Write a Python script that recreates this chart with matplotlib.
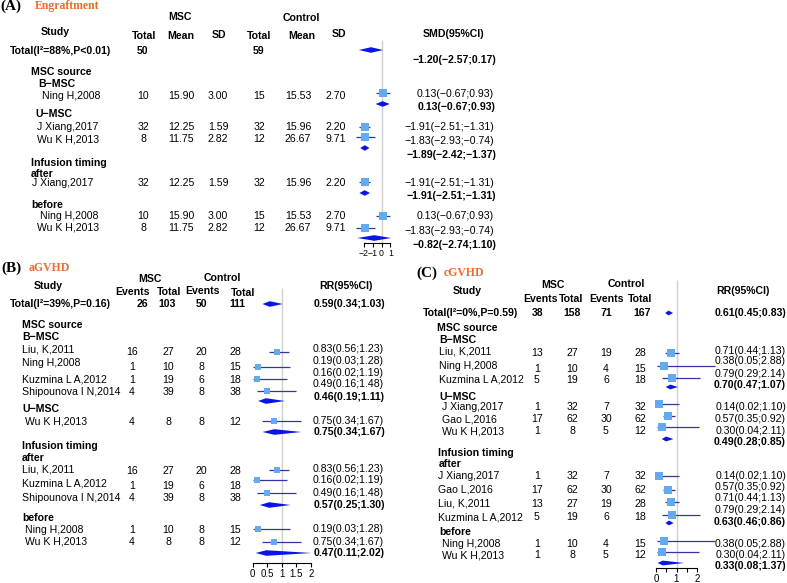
import matplotlib.pyplot as plt

plt.rcParams['font.family'] = ['Liberation Sans', 'DejaVu Sans']

# ---------------- data: (A) Engraftment, SMD ----------------
A_study = ["Ning H,2008", "J Xiang,2017", "Wu K H,2013", "J Xiang,2017", "Ning H,2008", "Wu K H,2013"]
A_msc_total = [10, 32, 8, 32, 10, 8]
A_msc_mean = [15.90, 12.25, 11.75, 12.25, 15.90, 11.75]
A_msc_sd = [3.00, 1.59, 2.82, 1.59, 3.00, 2.82]
A_ctl_total = [15, 32, 12, 32, 15, 12]
A_ctl_mean = [15.53, 15.96, 26.67, 15.96, 15.53, 26.67]
A_ctl_sd = [2.70, 2.20, 9.71, 2.20, 2.70, 9.71]
A_smd = [0.13, -1.91, -1.83, -1.91, 0.13, -1.83]
A_lo = [-0.67, -2.51, -2.93, -2.51, -0.67, -2.93]
A_hi = [0.93, -1.31, -0.74, -1.31, 0.93, -0.74]
A_sum_smd = [-1.20, 0.13, -1.89, -1.91, -0.82]
A_sum_lo = [-2.57, -0.67, -2.42, -2.51, -2.74]
A_sum_hi = [0.17, 0.93, -1.37, -1.31, 1.10]
A_total = [50, 59]
A_total_label = "Total(I²=88%,P<0.01)"
A_groups = ["MSC source", "B\u2212MSC", "U\u2212MSC", "Infusion timing", "after", "before"]
A_ticks = [-2, -1, 0, 1]
A_ticklabels = ["\u22122", "\u22121", "0", "1"]

# ---------------- data: (B) aGVHD, RR ----------------
B_study = ["Liu, K,2011", "Ning H,2008", "Kuzmina L A,2012", "Shipounova I N,2014", "Wu K H,2013",
           "Liu, K,2011", "Kuzmina L A,2012", "Shipounova I N,2014", "Ning H,2008", "Wu K H,2013"]
B_msc_events = [16, 1, 1, 4, 4, 16, 1, 4, 1, 4]
B_msc_total = [27, 10, 19, 39, 8, 27, 19, 39, 10, 8]
B_ctl_events = [20, 8, 6, 8, 8, 20, 6, 8, 8, 8]
B_ctl_total = [28, 15, 18, 38, 12, 28, 18, 38, 15, 12]
B_rr = [0.83, 0.19, 0.16, 0.49, 0.75, 0.83, 0.16, 0.49, 0.19, 0.75]
B_lo = [0.56, 0.03, 0.02, 0.16, 0.34, 0.56, 0.02, 0.16, 0.03, 0.34]
B_hi = [1.23, 1.28, 1.19, 1.48, 1.67, 1.23, 1.19, 1.48, 1.28, 1.67]
B_sum_rr = [0.59, 0.46, 0.75, 0.57, 0.47]
B_sum_lo = [0.34, 0.19, 0.34, 0.25, 0.11]
B_sum_hi = [1.03, 1.11, 1.67, 1.30, 2.02]
B_total = [26, 103, 50, 111]
B_total_label = "Total(I²=39%,P=0.16)"
B_ticks = [0, 0.5, 1, 1.5, 2]
B_ticklabels = ["0", "0.5", "1", "1.5", "2"]

# ---------------- data: (C) cGVHD, RR ----------------
C_study = ["Liu, K,2011", "Ning H,2008", "Kuzmina L A,2012", "J Xiang,2017", "Gao L,2016", "Wu K H,2013",
           "J Xiang,2017", "Gao L,2016", "Liu, K,2011", "Kuzmina L A,2012", "Ning H,2008", "Wu K H,2013"]
C_msc_events = [13, 1, 5, 1, 17, 1, 1, 17, 13, 5, 1, 1]
C_msc_total = [27, 10, 19, 32, 62, 8, 32, 62, 27, 19, 10, 8]
C_ctl_events = [19, 4, 6, 7, 30, 5, 7, 30, 19, 6, 4, 5]
C_ctl_total = [28, 15, 18, 32, 62, 12, 32, 62, 28, 18, 15, 12]
C_rr = [0.71, 0.38, 0.79, 0.14, 0.57, 0.30, 0.14, 0.57, 0.71, 0.79, 0.38, 0.30]
C_lo = [0.44, 0.05, 0.29, 0.02, 0.35, 0.04, 0.02, 0.35, 0.44, 0.29, 0.05, 0.04]
C_hi = [1.13, 2.88, 2.14, 1.10, 0.92, 2.11, 1.10, 0.92, 1.13, 2.14, 2.88, 2.11]
C_sum_rr = [0.61, 0.70, 0.49, 0.63, 0.33]
C_sum_lo = [0.45, 0.47, 0.28, 0.46, 0.08]
C_sum_hi = [0.83, 1.07, 0.85, 0.86, 1.37]
C_total = [38, 158, 71, 167]
C_total_label = "Total(I²=0%,P=0.59)"
C_ticks = [0, 0.5, 1, 1.5, 2]
C_ticklabels = ["0", "", "1", "", "2"]

# ---------------- layout (pixel rows / columns) ----------------
W, H = 787, 583
FS = 7.6
ORANGE = '#ee6a28'
LIGHT = '#63aaee'
NAVY = '#3434a6'
BLUE = '#0a14e6'

A_grp_xy = [(31, 72), (38, 84), (35, 114), (31, 163), (31, 174), (31, 205)]
A_name_x = [42, 37, 37, 32, 40, 37]
A_row_y = [96, 127, 139, 183, 216, 228]
A_mark_y = [93, 127, 137, 182, 216, 228]
A_est_y = [94, 127, 141, 183, 216, 231]
A_sum_mark_y = [50, 104, 148, 193, 238]
A_sum_text_y = [60, 107, 155, 196, 245]
A_cols = [143, 181, 218, 259, 298, 336]

B_grp_xy = [(22, 325), (22, 337), (22, 409), (22, 446), (22, 458), (22, 518)]
B_name_x = [22, 22, 22, 22, 25, 22, 22, 22, 25, 25]
B_name_y = [350, 363, 379, 392, 422, 470, 484, 498, 530, 542]
B_num_y = [352, 367, 380, 392, 422, 471, 486, 498, 530, 542]
B_mark_y = [352, 367, 379, 391, 421, 470, 480, 493, 529, 542]
B_est_y = [349, 361, 373, 384, 421, 469, 480, 493, 529, 542]
B_sum_mark_y = [304, 401, 432, 505, 553]
B_sum_text_y = [304, 397, 432, 505, 553]
B_cols = [132, 168, 201, 235]
B_head_cols = [132, 169, 203, 243]
B_total_cols = [142, 167, 202, 237]

C_grp_xy = [(437, 328), (439, 340), (439, 397), (438, 453), (439, 464), (439, 532)]
C_name_x = [439, 439, 439, 442, 442, 442, 438, 438, 438, 438, 442, 442]
C_name_y = [351, 366, 379, 407, 419, 431, 476, 490, 504, 517, 544, 555]
C_num_y = [353, 369, 380, 407, 419, 431, 476, 490, 504, 517, 544, 555]
C_mark_y = [353, 366, 378, 404, 416, 427, 476, 490, 502, 515, 541, 552]
C_est_y = [351, 361, 374, 407, 419, 431, 476, 487, 498, 510, 544, 555]
C_sum_mark_y = [313, 387, 439, 523, 563]
C_sum_text_y = [313, 385, 442, 522, 566]
C_cols = [537, 572, 606, 640]


def fmt(v):
    return f"{v:.2f}".replace('-', '\u2212')


def ci(e, l, h):
    return f"{fmt(e)}({fmt(l)};{fmt(h)})"


fig = plt.figure(figsize=(W / 100, H / 100), dpi=100)
ax0 = fig.add_axes([0, 0, 1, 1])
ax0.set_xlim(0, W)
ax0.set_ylim(H, 0)
ax0.axis('off')


def put(x, y, s, ha='left', bold=False, size=FS, **kw):
    ax0.text(x, y, s, ha=ha, va='center', fontsize=size,
             fontweight='bold' if bold else 'normal', **kw)


def title(x, y, tag, name, gap):
    ax0.text(x, y, tag, ha='left', va='center', fontsize=11, fontweight='bold',
             family='Liberation Serif')
    ax0.text(x + gap, y, name, ha='left', va='center', fontsize=8.5,
             fontweight='bold', family='Liberation Serif', color=ORANGE)


def forest(px0, px1, py_top, py_axis, zero_px, scale, ref, bounds, ticks, labels, lsize=7):
    ax = fig.add_axes([px0 / W, 1 - py_axis / H, (px1 - px0) / W, (py_axis - py_top) / H])
    ax.set_xlim((px0 - zero_px) / scale, (px1 - zero_px) / scale)
    ax.set_ylim(py_axis, py_top)
    ax.patch.set_visible(False)
    for s in ['top', 'right', 'left']:
        ax.spines[s].set_visible(False)
    ax.spines['bottom'].set_bounds(*bounds)
    ax.spines['bottom'].set_linewidth(0.8)
    ax.set_yticks([])
    ax.set_xticks(ticks)
    ax.set_xticklabels(labels)
    ax.tick_params(axis='x', length=3, width=0.8, labelsize=lsize, pad=1.5)
    ax.vlines(ref, py_top, py_axis, color='#cfcfcf', lw=1, zorder=0)
    return ax


def studies(ax, est, lo, hi, ys, ms):
    ax.hlines(ys, lo, hi, color=NAVY, lw=0.9, zorder=2, clip_on=False)
    ax.scatter(est, ys, marker='s', s=ms ** 2, color=LIGHT, linewidths=0, zorder=3, clip_on=False)


def diamonds(ax, est, lo, hi, ys, h):
    for e, l, u, y in zip(est, lo, hi, ys):
        ax.fill([l, e, u, e], [y, y - h, y, y + h], color=BLUE, lw=0, zorder=3, clip_on=False)


# ================= (A) =================
title(0, 6, "(A)", "Engraftment", 35)
put(180, 17, "MSC", 'center', True)
put(301, 18, "Control", 'center', True)
put(55, 32, "Study", 'center', True)
for x, y, s in zip([144, 181, 219, 259, 302, 339], [36, 36, 35, 36, 36, 34],
                   ["Total", "Mean", "SD", "Total", "Mean", "SD"]):
    put(x, y, s, 'center', True)
put(454, 34, "SMD(95%CI)", 'center', True)
put(10, 51, A_total_label, bold=True)
put(143, 51, str(A_total[0]), 'center', True)
put(259, 51, str(A_total[1]), 'center', True)
for (x, y), g in zip(A_grp_xy, A_groups):
    put(x, y, g, bold=True)
for i in range(len(A_study)):
    y = A_row_y[i]
    put(A_name_x[i], y, A_study[i])
    vals = [str(A_msc_total[i]), f"{A_msc_mean[i]:.2f}", f"{A_msc_sd[i]:.2f}",
            str(A_ctl_total[i]), f"{A_ctl_mean[i]:.2f}", f"{A_ctl_sd[i]:.2f}"]
    for x, v in zip(A_cols, vals):
        put(x, y, v, 'center')
    put(494, A_est_y[i], ci(A_smd[i], A_lo[i], A_hi[i]), 'right')
for i in range(len(A_sum_smd)):
    put(496, A_sum_text_y[i], ci(A_sum_smd[i], A_sum_lo[i], A_sum_hi[i]), 'right', True)

axA = forest(340, 410, 40, 243, 381.5, 8.8, 0, (-2, 1), A_ticks, A_ticklabels, 6.3)
studies(axA, A_smd, A_lo, A_hi, A_mark_y, 5.6)
diamonds(axA, A_sum_smd, A_sum_lo, A_sum_hi, A_sum_mark_y, 2.8)

# ================= (B) =================
title(1, 268, "(B)", "aGVHD", 28)
put(48, 286, "Study", 'center', True)
put(150, 279, "MSC", 'center', True)
put(222, 278, "Control", 'center', True)
for x, y, s in zip(B_head_cols, [292, 292, 291, 293], ["Events", "Total", "Events", "Total"]):
    put(x, y, s, 'center', True)
put(346, 286, "RR(95%CI)", 'center', True)
put(10, 304, B_total_label, bold=True)
for x, v in zip(B_total_cols, B_total):
    put(x, 304, str(v), 'center', True)
for (x, y), g in zip(B_grp_xy, A_groups):
    put(x, y, g, bold=True)
for i in range(len(B_study)):
    put(B_name_x[i], B_name_y[i], B_study[i])
    for x, v in zip(B_cols, [B_msc_events[i], B_msc_total[i], B_ctl_events[i], B_ctl_total[i]]):
        put(x, B_num_y[i], str(v), 'center')
    put(384, B_est_y[i], ci(B_rr[i], B_lo[i], B_hi[i]), 'right')
for i in range(len(B_sum_rr)):
    put(385, B_sum_text_y[i], ci(B_sum_rr[i], B_sum_lo[i], B_sum_hi[i]), 'right', True)

axB = forest(240, 330, 288, 563, 252.5, 29.3, 1, (0, 2), B_ticks, B_ticklabels)
studies(axB, B_rr, B_lo, B_hi, B_mark_y, 4.8)
diamonds(axB, B_sum_rr, B_sum_lo, B_sum_hi, B_sum_mark_y, 2.8)

# ================= (C) =================
title(416, 273, "(C)", "cGVHD", 28)
put(467, 291, "Study", 'center', True)
put(553, 285, "MSC", 'center', True)
put(626, 284, "Control", 'center', True)
for x, s in zip([540, 571, 607, 640], ["Events", "Total", "Events", "Total"]):
    put(x, 299, s, 'center', True)
put(743, 291, "RR(95%CI)", 'center', True)
put(423, 313, C_total_label, bold=True)
for x, v in zip([538, 572, 606, 642], C_total):
    put(x, 313, str(v), 'center', True)
for (x, y), g in zip(C_grp_xy, A_groups):
    put(x, y, g, bold=True)
for i in range(len(C_study)):
    put(C_name_x[i], C_name_y[i], C_study[i])
    for x, v in zip(C_cols, [C_msc_events[i], C_msc_total[i], C_ctl_events[i], C_ctl_total[i]]):
        put(x, C_num_y[i], str(v), 'center')
    put(786, C_est_y[i], ci(C_rr[i], C_lo[i], C_hi[i]), 'right')
for i in range(len(C_sum_rr)):
    put(786, C_sum_text_y[i], ci(C_sum_rr[i], C_sum_lo[i], C_sum_hi[i]), 'right', True)

axC = forest(640, 720, 280, 568, 656, 20.5, 1, (0, 2), C_ticks, C_ticklabels)
studies(axC, C_rr, C_lo, C_hi, C_mark_y, 5.2)
diamonds(axC, C_sum_rr, C_sum_lo, C_sum_hi, C_sum_mark_y, 2.4)

fig.savefig("out.png", dpi=100)
